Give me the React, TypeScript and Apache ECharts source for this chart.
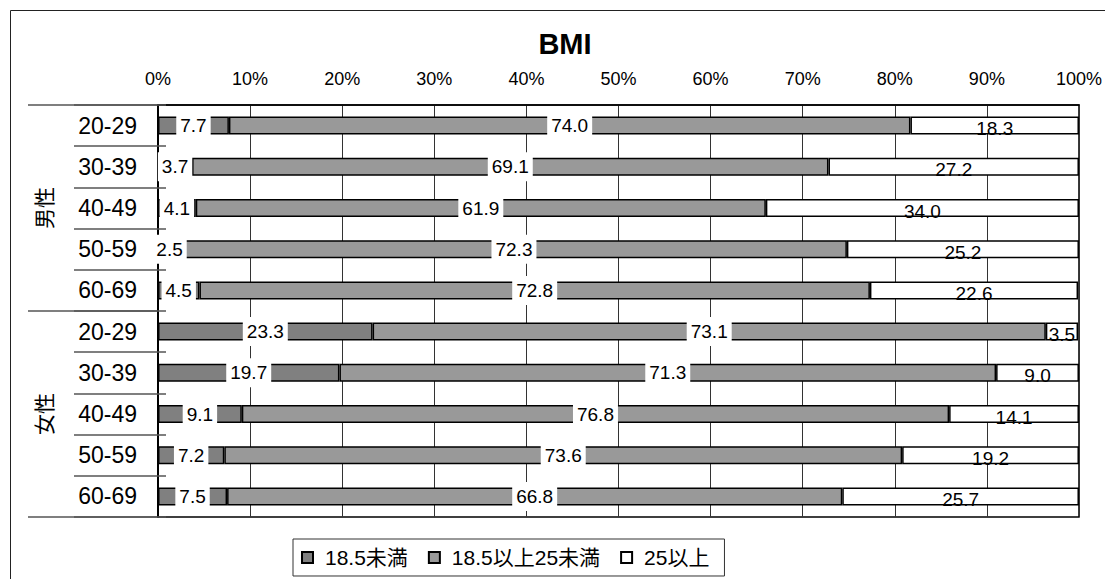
import React, { useEffect, useRef } from "react";
import * as echarts from "echarts";

// BMI distribution by sex and age group (percent of each group)
const groups = ["男性", "女性"];
const ages = ["20-29", "30-39", "40-49", "50-59", "60-69"];
const seriesNames = ["18.5未満", "18.5以上25未満", "25以上"];

// Men, 20-29 .. 60-69
const maleUnder185 = [7.7, 3.7, 4.1, 2.5, 4.5];
const maleNormal = [74.0, 69.1, 61.9, 72.3, 72.8];
const maleOver25 = [18.3, 27.2, 34.0, 25.2, 22.6];
// Women, 20-29 .. 60-69
const femaleUnder185 = [23.3, 19.7, 9.1, 7.2, 7.5];
const femaleNormal = [73.1, 71.3, 76.8, 73.6, 66.8];
const femaleOver25 = [3.5, 9.0, 14.1, 19.2, 25.7];

const tickValues = [0, 10, 20, 30, 40, 50, 60, 70, 80, 90, 100];

const FONT = "'Liberation Sans', Arial, 'Noto Sans CJK JP', sans-serif";
const W = 1105;
const H = 579;
const GRID_LEFT = 158;
const GRID_TOP = 105;
const GRID_W = 922;
const GRID_H = 412;

const categories = groups.flatMap((g) => ages.map((a) => `${g}|${a}`));
const under185 = [...maleUnder185, ...femaleUnder185];
const normal = [...maleNormal, ...femaleNormal];
const over25 = [...maleOver25, ...femaleOver25];
const seriesData = [under185, normal, over25];
const colors = ["#808080", "#999999", "#ffffff"];

export default function App() {
  const ref = useRef<HTMLDivElement>(null);

  useEffect(() => {
    document.body.style.margin = "0";
    if (!ref.current) return;
    const chart = echarts.init(ref.current, undefined, { renderer: "svg" });

    const groupMid = (i: number) =>
      GRID_TOP + (GRID_H / groups.length) * (i + 0.5);

    chart.setOption({
      animation: false,
      backgroundColor: "#ffffff",
      textStyle: { fontFamily: FONT },
      grid: {
        left: GRID_LEFT,
        top: GRID_TOP,
        width: GRID_W,
        height: GRID_H,
        show: true,
        borderColor: "#000",
        borderWidth: 1.5,
        backgroundColor: "transparent",
      },
      legend: {
        left: 293,
        top: 539,
        orient: "horizontal",
        data: seriesNames,
        icon: "rect",
        itemWidth: 11,
        itemHeight: 11,
        itemGap: 20,
        padding: [8, 15, 8, 8],
        borderColor: "#333",
        borderWidth: 1,
        selectedMode: false,
        textStyle: {
          fontFamily: FONT,
          fontSize: 21,
          color: "#000",
          padding: [0, 0, 0, 7],
        },
      },
      xAxis: {
        type: "value",
        position: "top",
        min: tickValues[0],
        max: tickValues[tickValues.length - 1],
        interval: 10,
        axisLine: { show: true, lineStyle: { color: "#000", width: 1.5 } },
        axisTick: { show: false },
        axisLabel: {
          formatter: "{value}%",
          fontSize: 18,
          color: "#000",
          margin: 17,
          fontFamily: FONT,
        },
        splitLine: { show: true, lineStyle: { color: "#333", width: 1 } },
      },
      yAxis: [
        {
          type: "category",
          inverse: true,
          data: categories,
          axisLine: { show: true, lineStyle: { color: "#000", width: 2 } },
          axisTick: {
            show: true,
            length: 84,
            interval: 0,
            lineStyle: { color: "#555", width: 1.5 },
          },
          axisLabel: {
            formatter: (v: string) => v.split("|")[1],
            fontSize: 23,
            color: "#000",
            margin: 21,
            fontFamily: FONT,
          },
          splitLine: { show: false },
        },
        {
          // short inward ticks at the row boundaries
          type: "category",
          inverse: true,
          position: "left",
          data: categories,
          axisLine: { show: false },
          axisTick: {
            show: true,
            inside: true,
            length: 8,
            interval: 0,
            lineStyle: { color: "#555", width: 1.5 },
          },
          axisLabel: { show: false },
          splitLine: { show: false },
        },
      ],
      series: seriesNames.map((name, i) => ({
        name,
        type: "bar",
        stack: "total",
        barWidth: 18,
        yAxisIndex: 0,
        data: seriesData[i],
        itemStyle: { color: colors[i], borderColor: "#000", borderWidth: 1.5 },
        label: {
          show: true,
          position: "inside",
          formatter: (p: any) => Number(p.value).toFixed(1),
          fontSize: 19,
          fontFamily: FONT,
          color: "#000",
          offset: i === 2 ? [0, 3] : [0, 0],
          backgroundColor: i === 2 ? "transparent" : "#fff",
          padding: [5, 4],
        },
      })),
      graphic: [
        // outer frame
        {
          type: "rect",
          shape: { x: 10.5, y: 10.5, width: W + 20, height: H + 20 },
          style: { fill: "none", stroke: "#222", lineWidth: 1 },
          silent: true,
        },
        // group separators on the category side
        ...[GRID_TOP, GRID_TOP + GRID_H / 2, GRID_TOP + GRID_H].map((y) => ({
          type: "line",
          shape: { x1: 28, y1: y, x2: GRID_LEFT, y2: y },
          style: { stroke: "#555", lineWidth: 1.5 },
          silent: true,
        })),
        // group names, written bottom-to-top
        ...groups.map((g, i) => ({
          type: "text",
          x: 44,
          y: groupMid(i),
          rotation: Math.PI / 2,
          style: {
            text: g,
            fontSize: 21,
            fontFamily: FONT,
            fill: "#000",
            textAlign: "center",
            textVerticalAlign: "middle",
          },
          silent: true,
        })),
        // title
        {
          type: "text",
          x: 565,
          y: 44,
          style: {
            text: "BMI",
            fontSize: 29,
            fontWeight: "bold",
            fontFamily: FONT,
            fill: "#000",
            textAlign: "center",
            textVerticalAlign: "middle",
          },
          silent: true,
        },
      ],
    });

    return () => chart.dispose();
  }, []);

  return <div ref={ref} style={{ width: W, height: H }} />;
}
